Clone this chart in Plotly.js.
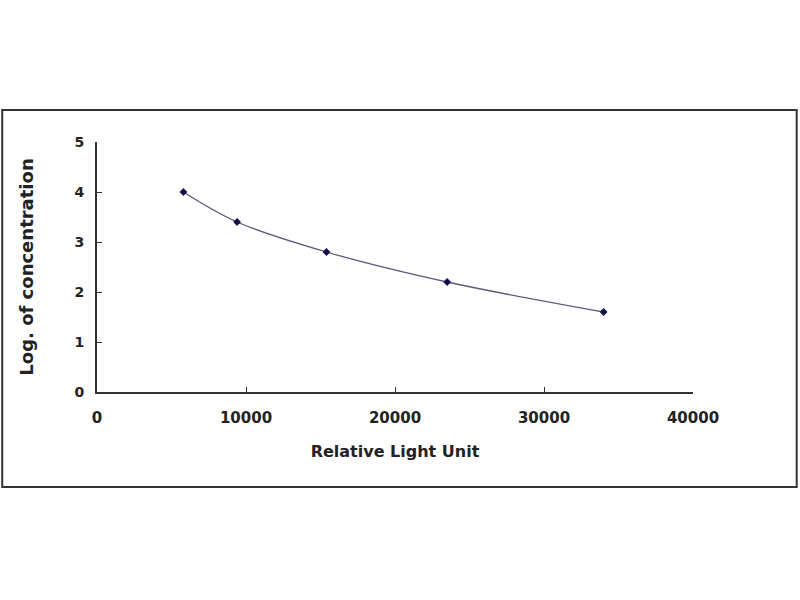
<!DOCTYPE html>
<html>
<head>
<meta charset="utf-8">
<script src="https://cdn.plot.ly/plotly-3.0.1.min.js"></script>
<style>html,body{margin:0;padding:0;background:#fff;}#chart{width:800px;height:600px;}</style>
</head>
<body>
<div id="chart"></div>
<script>
var rlu = [5800, 9400, 15400, 23500, 34000];
var logConc = [4.0, 3.4, 2.8, 2.2, 1.6];
var xTicks = [0, 10000, 20000, 30000, 40000];
var yTicks = [0, 1, 2, 3, 4, 5];

var fontFam = 'DejaVu Sans, Liberation Sans, Arial, sans-serif';
var trace = {
  x: rlu, y: logConc,
  mode: 'lines+markers',
  line: {shape: 'spline', color: '#5a5a80', width: 1.3},
  marker: {symbol: 'diamond', size: 6, color: '#10104a'},
  hoverinfo: 'x+y'
};
var layout = {
  width: 800, height: 600,
  margin: {l: 97, r: 107, t: 142, b: 208},
  paper_bgcolor: '#fff', plot_bgcolor: '#fff',
  showlegend: false,
  font: {family: fontFam, color: '#222', size: 14},
  xaxis: {
    range: [0, 40000], tickvals: xTicks, ticktext: xTicks.map(String),
    showgrid: false, zeroline: false, showline: true, linecolor: '#333', linewidth: 2,
    ticks: 'inside', ticklen: 5, tickcolor: '#333', tickwidth: 1,
    ticklabelstandoff: 11,
    tickfont: {family: fontFam, size: 15, color: '#222', weight: 'bold'},
    title: {text: '<b>Relative Light Unit</b>', font: {family: fontFam, size: 16, color: '#222'}, standoff: 20}
  },
  yaxis: {
    range: [0, 5], tickvals: yTicks, ticktext: yTicks.map(String),
    showgrid: false, zeroline: false, showline: true, linecolor: '#333', linewidth: 2,
    ticks: 'inside', ticklen: 5, tickcolor: '#333', tickwidth: 1,
    ticklabelstandoff: 8,
    tickfont: {family: fontFam, size: 14, color: '#222', weight: 'bold'},
    title: {text: '<b>Log. of concentration</b>', font: {family: fontFam, size: 18, color: '#222'}, standoff: 36}
  },
  shapes: [{
    type: 'rect', xref: 'paper', yref: 'paper',
    x0: -0.159, x1: 1.174, y0: -0.38, y1: 1.128,
    line: {color: '#333', width: 2}, fillcolor: 'rgba(0,0,0,0)', layer: 'below'
  }]
};
Plotly.newPlot('chart', [trace], layout, {displayModeBar: false, staticPlot: true});
</script>
</body>
</html>
